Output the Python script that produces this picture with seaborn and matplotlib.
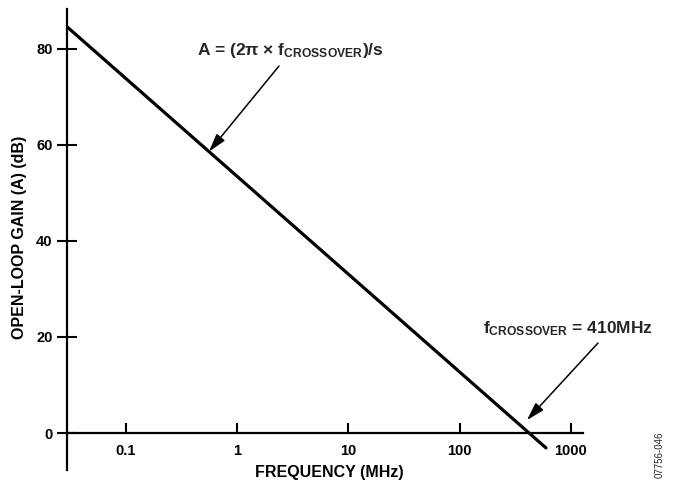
import numpy as np
import pandas as pd
import matplotlib
matplotlib.use("Agg")
import matplotlib.pyplot as plt
import seaborn as sns

# ---- data ----
freq_mhz = [0.0295, 596.0]          # line end points (MHz)
gain_db = [84.6, -3.1]              # open-loop gain (dB)
x_ticks = [0.1, 1, 10, 100, 1000]
x_tick_labels = ["0.1", "1", "10", "100", "1000"]
y_ticks = [0, 20, 40, 60, 80]
y_tick_labels = ["0", "20", "40", "60", "80"]
arrow1_freq = 0.557                 # where the first arrow touches the line
arrow2_freq = 402.0                 # crossover arrow tip

sns.set_theme(style="white")
plt.rcParams["font.family"] = ["Liberation Sans", "DejaVu Sans"]
plt.rcParams["font.weight"] = "bold"
plt.rcParams["mathtext.fontset"] = "custom"
plt.rcParams["mathtext.rm"] = "Liberation Sans:bold"
plt.rcParams["mathtext.bf"] = "Liberation Sans:bold"
plt.rcParams["mathtext.it"] = "Liberation Sans:bold"
plt.rcParams["mathtext.default"] = "bf"

W, H = 674, 483
fig = plt.figure(figsize=(W / 100, H / 100), dpi=100)
L, R, T, B = 67, 583, 9, 470
ax = fig.add_axes([L / W, (H - B) / H, (R - L) / W, (B - T) / H])

df = pd.DataFrame({"freq": freq_mhz, "gain": gain_db})
sns.lineplot(data=df, x="freq", y="gain", ax=ax, color="black", lw=2.3)

ax.set_xscale("log")
ax.set_xlim(0.0295, 1282)
ax.set_ylim(-7.7, 88.3)
ax.set_facecolor("white")

for s in ["top", "right"]:
    ax.spines[s].set_visible(False)
for s in ["left", "bottom"]:
    ax.spines[s].set_color("black")
    ax.spines[s].set_linewidth(1.6)
ax.spines["bottom"].set_position(("data", 0))

ax.set_xticks(x_ticks)
ax.set_xticklabels(x_tick_labels)
ax.xaxis.set_minor_locator(matplotlib.ticker.NullLocator())
ax.set_yticks(y_ticks)
ax.set_yticklabels(y_tick_labels)

ax.tick_params(axis="x", which="major", direction="in", length=7, width=1.5,
               pad=8, labelsize=10.5, colors="black", bottom=True)
ax.tick_params(axis="y", which="major", direction="inout", length=14, width=1.5,
               pad=3.5, labelsize=10.5, colors="black", left=True)
for lab in ax.get_xticklabels() + ax.get_yticklabels():
    lab.set_fontweight("bold")

ax.set_xlabel("FREQUENCY (MHz)", fontsize=11.5, fontweight="bold", color="black")
ax.xaxis.set_label_coords((329 - L) / (R - L), (B - 465) / (B - T))
ax.set_ylabel("OPEN-LOOP GAIN (A) (dB)", fontsize=11.5, fontweight="bold", color="black")
ax.yaxis.set_label_coords((27 - L) / (R - L), (B - 237) / (B - T))

# arrow tips placed on the line (interpolated in log-frequency)
lf = np.log10(freq_mhz)
g1 = np.interp(np.log10(arrow1_freq), lf, gain_db)
g2 = np.interp(np.log10(arrow2_freq), lf, gain_db)
aprops = dict(arrowstyle="-|>,head_length=1.1,head_width=0.32", lw=1.1,
              color="black", shrinkA=0, shrinkB=0, mutation_scale=10)
ax.annotate("", xy=(arrow1_freq, g1), xycoords="data",
            xytext=(279, H - 66), textcoords="figure pixels", arrowprops=aprops)
ax.annotate("", xy=(arrow2_freq, g2 + 2.3), xycoords="data",
            xytext=(598, H - 343), textcoords="figure pixels", arrowprops=aprops)

fig.text(290.5 / W, (H - 51) / H, r"A = (2π × f$_{CROSSOVER}$)/s",
         ha="center", va="center", fontsize=12.5, fontweight="bold")
fig.text(568 / W, (H - 329) / H, r"f$_{CROSSOVER}$ = 410MHz",
         ha="center", va="center", fontsize=12.5, fontweight="bold")
fig.text(660 / W, (H - 455) / H, "07756-046", rotation=90, ha="center",
         va="center", fontsize=7, fontweight="normal")

fig.savefig("out.png", dpi=100, facecolor="white")
